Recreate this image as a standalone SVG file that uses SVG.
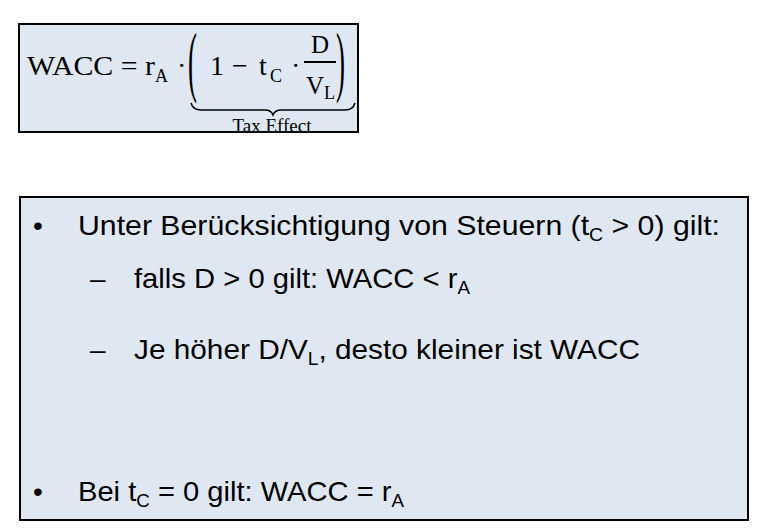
<svg xmlns="http://www.w3.org/2000/svg" width="768" height="531" viewBox="0 0 768 531">
<style>
.box{fill:#dfe8f2;stroke:#000;stroke-width:2}
.m{font-family:"Liberation Serif",serif;fill:#000}
.t{font-family:"Liberation Sans",sans-serif;font-size:28px;fill:#000}
.s{font-size:18px}
</style>
<rect width="768" height="531" fill="#fff"/>
<g id="formula">
<rect class="box" x="19" y="24" width="339" height="108"/>
<text class="m" x="27" y="75" font-size="28" textLength="128" lengthAdjust="spacingAndGlyphs">WACC = r</text>
<text class="m s" x="155" y="82">A</text>
<text class="m" x="177" y="75" font-size="28">·</text>
<text class="m" font-size="27" transform="translate(188,87) scale(1,2.9)">(</text>
<text class="m" x="210" y="75" font-size="28">1</text>
<text class="m" x="232" y="75" font-size="28">−</text>
<text class="m" x="259" y="75" font-size="28">t</text>
<text class="m s" x="270" y="82">C</text>
<text class="m" x="291" y="75" font-size="28">·</text>
<text class="m" x="311" y="53" font-size="25">D</text>
<line x1="304" y1="62" x2="336" y2="62" stroke="#000" stroke-width="2"/>
<text class="m" x="306" y="94" font-size="25">V<tspan class="s" dy="5">L</tspan></text>
<text class="m" font-size="27" transform="translate(336,87) scale(1,2.9)">)</text>
<path d="M191,103 q2,7 10,7 h64 q6,0 8,5 q2,-5 8,-5 h64 q8,0 10,-7" fill="none" stroke="#000" stroke-width="1.5"/>
<text class="m" x="272" y="132" font-size="19" text-anchor="middle">Tax Effect</text>
</g>
<g id="notes">
<rect class="box" x="20" y="197" width="728" height="323"/>
<text class="t" x="33" y="235">•</text>
<text class="t" x="78" y="235" textLength="642" lengthAdjust="spacingAndGlyphs">Unter Berücksichtigung von Steuern (t<tspan font-size="18" dy="6">C</tspan><tspan dy="-6"> &gt; 0) gilt:</tspan></text>
<text class="t" x="90" y="288">–</text>
<text class="t" x="134" y="288" textLength="336" lengthAdjust="spacingAndGlyphs">falls D &gt; 0 gilt: WACC &lt; r<tspan font-size="18" dy="6">A</tspan></text>
<text class="t" x="90" y="359">–</text>
<text class="t" x="134" y="359" textLength="506" lengthAdjust="spacingAndGlyphs">Je höher D/V<tspan font-size="18" dy="6">L</tspan><tspan dy="-6">, desto kleiner ist WACC</tspan></text>
<text class="t" x="33" y="501">•</text>
<text class="t" x="78" y="501" textLength="326" lengthAdjust="spacingAndGlyphs">Bei t<tspan font-size="18" dy="6">C</tspan><tspan dy="-6"> = 0 gilt: WACC = r</tspan><tspan font-size="18" dy="6">A</tspan></text>
</g>
</svg>
